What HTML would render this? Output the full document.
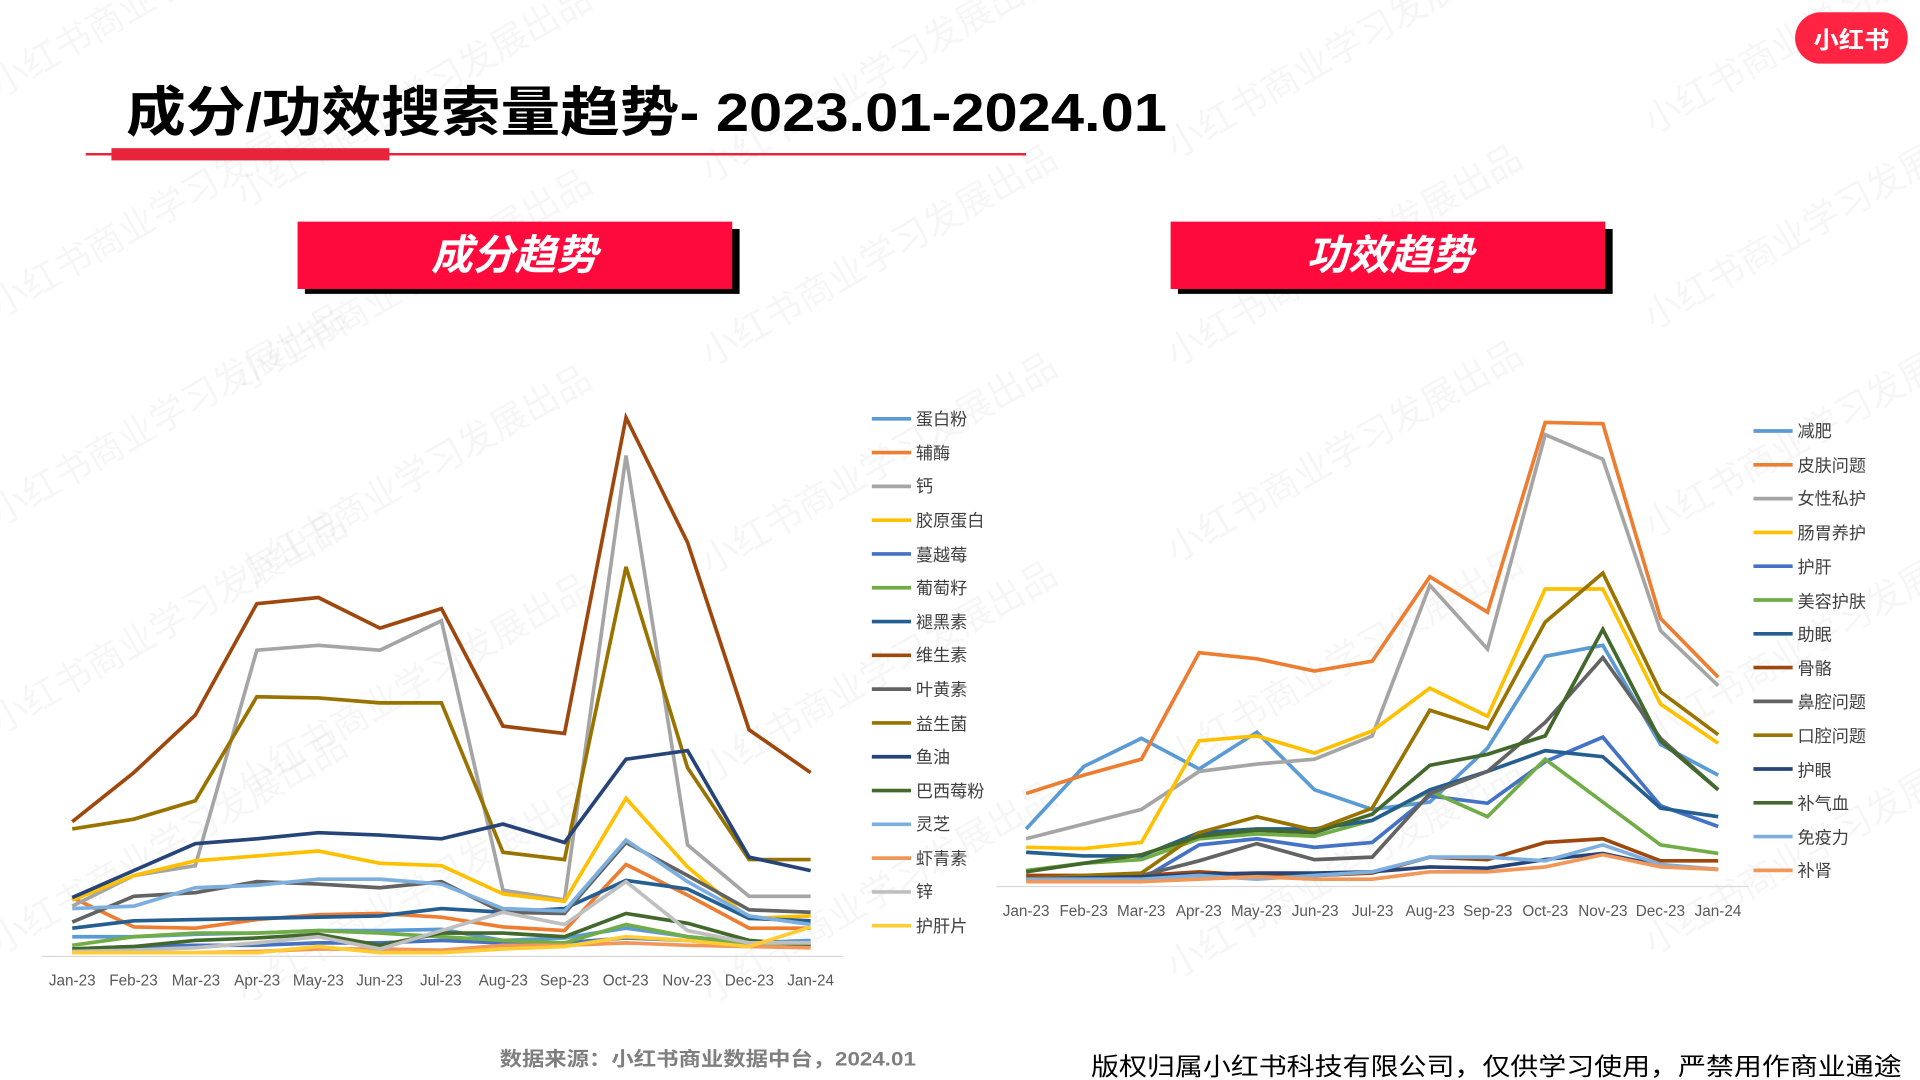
<!DOCTYPE html>
<html><head><meta charset="utf-8"><style>
html,body{margin:0;padding:0;background:#fff;width:1920px;height:1080px;overflow:hidden}
svg{display:block}
text{font-family:"Liberation Sans","Noto Sans CJK SC",sans-serif}
</style></head><body>
<svg id="s" width="1920" height="1080" viewBox="0 0 1568 882" xmlns="http://www.w3.org/2000/svg">
<rect width="1568" height="882" fill="#fff"/>
<g id="wm" font-size="30" fill="#000" fill-opacity="0.035"></g>
<!-- logo -->
<rect x="1466" y="10" width="92" height="42" rx="21" fill="#FF2442"/>
<text x="1512" y="39" font-size="19" font-weight="bold" fill="#fff" text-anchor="middle" textLength="62" lengthAdjust="spacingAndGlyphs">小红书</text>
<!-- title -->
<text x="103" y="107" font-size="44" font-weight="bold" fill="#000" textLength="850" lengthAdjust="spacingAndGlyphs">成分/功效搜索量趋势- 2023.01-2024.01</text>
<line x1="70" y1="126" x2="838" y2="126" stroke="#E8243C" stroke-width="2"/>
<rect x="91" y="121" width="227" height="10" fill="#E8243C"/>
<!-- tabs -->
<rect x="249" y="187" width="355" height="53" fill="#000"/>
<rect x="243" y="181" width="355" height="55" fill="#FF0A3C"/>
<text x="420" y="220" font-size="34" font-weight="bold" font-style="italic" fill="#fff" text-anchor="middle">成分趋势</text>
<rect x="962" y="187" width="355" height="53" fill="#000"/>
<rect x="956" y="181" width="355" height="55" fill="#FF0A3C"/>
<text x="1135" y="220" font-size="34" font-weight="bold" font-style="italic" fill="#fff" text-anchor="middle">功效趋势</text>
<!-- axes -->
<line x1="34" y1="781" x2="688" y2="781" stroke="#d9d9d9" stroke-width="1"/>
<line x1="814" y1="724" x2="1428" y2="724" stroke="#d9d9d9" stroke-width="1"/>
<g font-size="12.5" fill="#595959" text-anchor="middle">
<text x="59" y="805">Jan-23</text><text x="109" y="805">Feb-23</text><text x="160" y="805">Mar-23</text><text x="210" y="805">Apr-23</text><text x="260" y="805">May-23</text><text x="310" y="805">Jun-23</text><text x="360" y="805">Jul-23</text><text x="411" y="805">Aug-23</text><text x="461" y="805">Sep-23</text><text x="511" y="805">Oct-23</text><text x="561" y="805">Nov-23</text><text x="612" y="805">Dec-23</text><text x="662" y="805">Jan-24</text>
<text x="838" y="748">Jan-23</text><text x="885" y="748">Feb-23</text><text x="932" y="748">Mar-23</text><text x="979" y="748">Apr-23</text><text x="1026" y="748">May-23</text><text x="1074" y="748">Jun-23</text><text x="1121" y="748">Jul-23</text><text x="1168" y="748">Aug-23</text><text x="1215" y="748">Sep-23</text><text x="1262" y="748">Oct-23</text><text x="1309" y="748">Nov-23</text><text x="1356" y="748">Dec-23</text><text x="1403" y="748">Jan-24</text>
</g>
<g id="lines" fill="none" stroke-width="3" stroke-linejoin="miter"></g>
<!-- legends -->
<g font-size="14" fill="#404040">
<text x="748" y="347">蛋白粉</text><text x="748" y="375">辅酶</text><text x="748" y="402">钙</text><text x="748" y="430">胶原蛋白</text><text x="748" y="458">蔓越莓</text><text x="748" y="485">葡萄籽</text><text x="748" y="513">褪黑素</text><text x="748" y="540">维生素</text><text x="748" y="568">叶黄素</text><text x="748" y="596">益生菌</text><text x="748" y="623">鱼油</text><text x="748" y="651">巴西莓粉</text><text x="748" y="678">灵芝</text><text x="748" y="706">虾青素</text><text x="748" y="733">锌</text><text x="748" y="761">护肝片</text>
<text x="1468" y="357">减肥</text><text x="1468" y="385">皮肤问题</text><text x="1468" y="412">女性私护</text><text x="1468" y="440">肠胃养护</text><text x="1468" y="468">护肝</text><text x="1468" y="496">美容护肤</text><text x="1468" y="523">助眠</text><text x="1468" y="551">骨骼</text><text x="1468" y="578">鼻腔问题</text><text x="1468" y="606">口腔问题</text><text x="1468" y="634">护眼</text><text x="1468" y="661">补气血</text><text x="1468" y="689">免疫力</text><text x="1468" y="716">补肾</text>
</g>
<g id="leg" stroke-width="3"></g>
<!-- footer -->
<text x="408" y="870" font-size="16" font-weight="bold" fill="#7f7f7f" textLength="340" lengthAdjust="spacingAndGlyphs">数据来源：小红书商业数据中台，2024.01</text>
<text x="891" y="878" font-size="20" fill="#000" textLength="662" lengthAdjust="spacingAndGlyphs">版权归属小红书科技有限公司，仅供学习使用，严禁用作商业通途</text>
</svg>
<script>
var L=[
['#5B9BD5',[765,765,763,762,760,760,759,768,766,758,765,770,768]],
['#ED7D31',[733,757,758,751,747,746,749,757,760,706,731,758,758]],
['#A5A5A5',[740,715,707,531,527,531,507,727,735,372,690,732,732]],
['#FFC000',[735,715,703,699,695,705,707,730,736,652,708,750,748]],
['#4472C4',[775,773,772,772,770,770,768,770,770,766,768,772,772]],
['#70AD47',[772,765,762,762,760,762,765,768,770,755,765,770,772]],
['#255E91',[758,752,751,750,749,748,742,745,742,719,726,750,752]],
['#9E480E',[671,631,584,493,488,513,497,593,599,341,443,596,631]],
['#636363',[753,732,729,720,722,725,720,745,746,688,715,743,745]],
['#997300',[677,669,654,569,570,574,574,696,702,463,627,702,702]],
['#264478',[733,711,689,685,680,682,685,673,688,620,613,700,711]],
['#43682B',[775,773,768,766,763,772,762,762,765,746,754,768,772]],
['#7CAFDD',[742,740,725,723,718,718,722,742,744,686,720,748,755]],
['#F1975A',[778,778,778,777,775,775,776,772,772,770,772,773,774]],
['#BFBFBF',[777,776,774,770,765,775,760,745,755,720,760,770,770]],
['#FFCD33',[778,778,778,778,773,778,778,775,773,765,768,773,757]]];
var R=[
['#5B9BD5',[677,626,603,628,598,645,661,655,611,536,527,608,633]],
['#ED7D31',[648,633,620,533,538,548,540,471,500,345,346,505,553]],
['#A5A5A5',[685,673,661,630,624,620,601,478,530,355,375,515,560]],
['#FFC000',[692,693,688,605,601,615,597,562,585,481,481,575,607]],
['#4472C4',[718,718,718,690,685,692,688,650,656,622,602,658,675]],
['#70AD47',[711,705,702,685,681,683,670,646,667,620,655,690,697]],
['#255E91',[696,699,699,680,677,677,670,645,630,613,618,660,667]],
['#9E480E',[715,715,715,712,715,715,713,700,702,688,685,703,703]],
['#636363',[718,716,715,703,689,702,700,648,630,590,537,603,645]],
['#997300',[718,715,713,680,667,678,660,580,595,508,468,565,600]],
['#264478',[718,717,716,714,713,713,712,708,709,702,697,707,710]],
['#43682B',[712,705,698,683,678,680,665,625,616,601,514,605,645]],
['#7CAFDD',[718,718,718,715,718,715,712,700,700,703,690,706,710]],
['#F1975A',[720,720,720,718,716,718,718,712,712,708,698,708,710]]];
var NS='http://www.w3.org/2000/svg',g=document.getElementById('lines'),lg=document.getElementById('leg');
function draw(S,x0,dx,lx,ly){S.forEach(function(s,i){var p=document.createElementNS(NS,'polyline');
p.setAttribute('points',s[1].map(function(y,j){return (x0+j*dx)+','+y}).join(' '));p.setAttribute('stroke',s[0]);g.appendChild(p);
var l=document.createElementNS(NS,'line');var y=ly+i*27.6;l.setAttribute('x1',lx);l.setAttribute('x2',lx+32);l.setAttribute('y1',y);l.setAttribute('y2',y);l.setAttribute('stroke',s[0]);lg.appendChild(l);});}
draw(L,59,50.25,712,342);draw(R,838,47.1,1432,352);
var wm=document.getElementById('wm');
[[0,80],[200,170],[580,150],[960,130],[1350,110],[0,260],[200,320],[580,300],[960,300],[1350,270],[0,430],[200,480],[580,470],[960,460],[1350,440],[0,600],[200,650],[580,640],[960,630],[1350,610],[0,780],[200,820],[580,820],[960,800],[1350,780]].forEach(function(p){var t=document.createElementNS(NS,'text');t.setAttribute('transform','translate('+p[0]+','+p[1]+') rotate(-30)');t.textContent='小红书商业学习发展出品';wm.appendChild(t);});
</script>
</body></html>
